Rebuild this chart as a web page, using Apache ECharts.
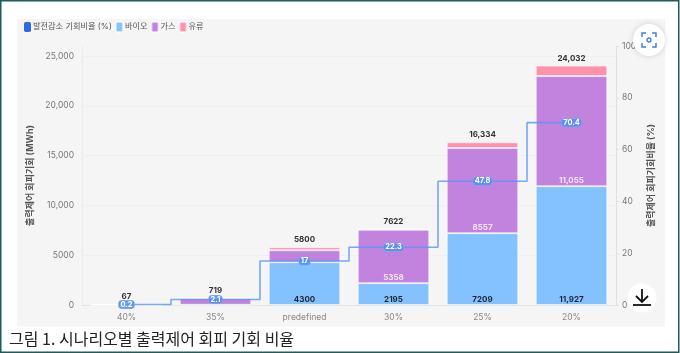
<!DOCTYPE html>
<html><head><meta charset="utf-8">
<style>html,body{margin:0;padding:0;background:#fff}#c{width:680px;height:353px;filter:blur(0.45px)}</style>
<script src="https://cdn.jsdelivr.net/npm/echarts@6/dist/echarts.min.js"></script>
</head><body><div id="c"></div>
<script>
const categories=['40%','35%','predefined','30%','25%','20%'];
const rate=[0.2,2.1,17,22.3,47.8,70.4];
const bio=[5,20,4300,2195,7209,11927];
const gas=[30,650,1200,5358,8557,11055];
const oil=[32,49,300,69,568,1050];
const totals=[67,719,5800,7622,16334,24032];
const leftTicks=[0,5000,10000,15000,20000,25000];
const bioLabelled=[false,false,true,true,true,true];
const gasLabelled=[false,false,false,true,true,true];
const FF="Inter,'Noto Sans CJK KR',sans-serif";
const fmt=v=>v>=10000?String(v).replace(/\B(?=(\d{3})+$)/g,','):String(v);
const barBorder={borderColor:'rgba(255,255,255,0.55)',borderWidth:1};
const chart=echarts.init(document.getElementById('c'),null,{renderer:'canvas'});
chart.setOption({
 animation:false,backgroundColor:'#fff',textStyle:{fontFamily:FF},
 legend:{left:24,top:21,itemWidth:7,itemHeight:10,itemGap:3,padding:0,
  data:['발전감소 기회비율 (%)','바이오','가스','유류'],icon:'roundRect',
  textStyle:{fontSize:8.2,color:'#555',fontFamily:FF,padding:[0,0,0,-3]}},
 grid:{left:82,right:64,top:46,bottom:48},
 xAxis:{type:'category',data:categories,
  axisLine:{lineStyle:{color:'#e4e4e4'}},axisTick:{show:false},
  axisLabel:{color:'#888',fontSize:8.5,margin:8,fontFamily:FF}},
 yAxis:[
  {type:'value',min:0,max:26000,interval:5000,
   name:'출력제어 회피기회 (MWh)',nameLocation:'middle',nameRotate:90,nameGap:41,
   nameTextStyle:{fontSize:9,fontWeight:'bold',color:'#555',fontFamily:FF},
   axisLine:{show:true,lineStyle:{color:'#ececec'}},axisTick:{show:false},
   splitLine:{show:true,showMaxLine:false,lineStyle:{color:'#efefef'}},
   axisLabel:{showMaxLabel:false,color:'#777',fontSize:8.5,margin:8,fontFamily:FF,
    formatter:v=>leftTicks.includes(v)?fmt(v):''}},
  {type:'value',min:0,max:100,interval:20,position:'right',
   name:'출력제어 회피기회비율 (%)',nameLocation:'middle',nameRotate:90,nameGap:27,
   nameTextStyle:{fontSize:9,fontWeight:'bold',color:'#555',fontFamily:FF},
   axisLine:{show:true,lineStyle:{color:'#e0e0e0'}},axisTick:{show:true,length:3,lineStyle:{color:'#e0e0e0'}},
   splitLine:{show:false},
   axisLabel:{color:'#777',fontSize:8.5,margin:6,fontFamily:FF}}
 ],
 series:[
  {name:'바이오',type:'bar',stack:'a',barWidth:71.5,
   data:bio.map((v,i)=>({value:v,label:{show:bioLabelled[i]}})),
   itemStyle:{color:'rgba(110,185,255,0.85)',...barBorder},
   label:{position:'insideBottom',distance:1,color:'#1d2530',fontSize:8,fontWeight:'bold',fontFamily:FF,formatter:p=>fmt(p.value)}},
  {name:'가스',type:'bar',stack:'a',
   data:gas.map((v,i)=>({value:v,label:{show:gasLabelled[i]}})),
   itemStyle:{color:'rgba(184,110,218,0.85)',...barBorder},
   label:{position:'insideBottom',distance:2,color:'#f2e4f8',fontSize:8,fontWeight:'bold',fontFamily:FF,formatter:p=>fmt(p.value)}},
  {name:'유류',type:'bar',stack:'a',data:oil,
   itemStyle:{color:'rgba(255,128,156,0.85)',...barBorder}},
  {name:'합계',type:'line',data:totals,symbol:'circle',symbolSize:1,showAllSymbol:true,
   lineStyle:{color:'transparent',width:0},itemStyle:{color:'transparent'},silent:true,
   label:{show:true,position:'top',distance:3,color:'#333',fontSize:8,fontWeight:'bold',fontFamily:FF,formatter:p=>fmt(p.value)}},
  {name:'발전감소 기회비율 (%)',type:'line',yAxisIndex:1,data:rate,step:'middle',symbol:'circle',symbolSize:1,showAllSymbol:true,z:5,
   lineStyle:{color:'rgba(88,148,245,0.8)',width:1.6},
   itemStyle:{color:'#2f6be0'},
   label:{show:true,position:'inside',color:'#fff',fontSize:7.5,fontWeight:'bold',fontFamily:FF,
    backgroundColor:'rgba(84,140,240,0.8)',borderColor:'rgba(120,165,245,0.9)',borderWidth:0.8,borderRadius:3,padding:[0,1.5]}}
 ],
 graphic:[
  {type:'rect',z:-10,silent:true,shape:{x:17,y:19,width:648,height:307.5},style:{fill:'#f5f5f5'}},
  {type:'rect',z:100,silent:true,shape:{x:0.75,y:0.75,width:678,height:351.5},style:{fill:'none',stroke:'#1d5c5c',lineWidth:1.5}},
  {type:'text',z:100,left:9,top:331,style:{text:'그림 1. 시나리오별 출력제어 회피 기회 비율',fontSize:16,fill:'#222',fontFamily:"'Noto Sans CJK KR',sans-serif"}},
  {type:'circle',z:100,silent:true,shape:{cx:649,cy:40,r:16},style:{fill:'#fff',shadowBlur:6,shadowColor:'rgba(0,0,0,0.15)'}},
  {type:'polyline',z:101,silent:true,shape:{points:[[642,37],[642,33],[646,33]]},style:{fill:'none',stroke:'#3b82d6',lineWidth:1.5}},
  {type:'polyline',z:101,silent:true,shape:{points:[[652,33],[656,33],[656,37]]},style:{fill:'none',stroke:'#3b82d6',lineWidth:1.5}},
  {type:'polyline',z:101,silent:true,shape:{points:[[642,43],[642,47],[646,47]]},style:{fill:'none',stroke:'#3b82d6',lineWidth:1.5}},
  {type:'polyline',z:101,silent:true,shape:{points:[[652,47],[656,47],[656,43]]},style:{fill:'none',stroke:'#3b82d6',lineWidth:1.5}},
  {type:'circle',z:101,silent:true,shape:{cx:649,cy:40,r:2},style:{fill:'none',stroke:'#3b82d6',lineWidth:1.3}},
  {type:'circle',z:100,silent:true,shape:{cx:642,cy:298,r:14.5},style:{fill:'#fff'}},
  {type:'polyline',z:101,silent:true,shape:{points:[[642,289],[642,302]]},style:{fill:'none',stroke:'#111',lineWidth:1.8}},
  {type:'polyline',z:101,silent:true,shape:{points:[[636,296],[642,302],[648,296]]},style:{fill:'none',stroke:'#111',lineWidth:1.8}},
  {type:'polyline',z:101,silent:true,shape:{points:[[633,305],[651,305]]},style:{fill:'none',stroke:'#111',lineWidth:1.8}}
 ]
});
</script></body></html>
